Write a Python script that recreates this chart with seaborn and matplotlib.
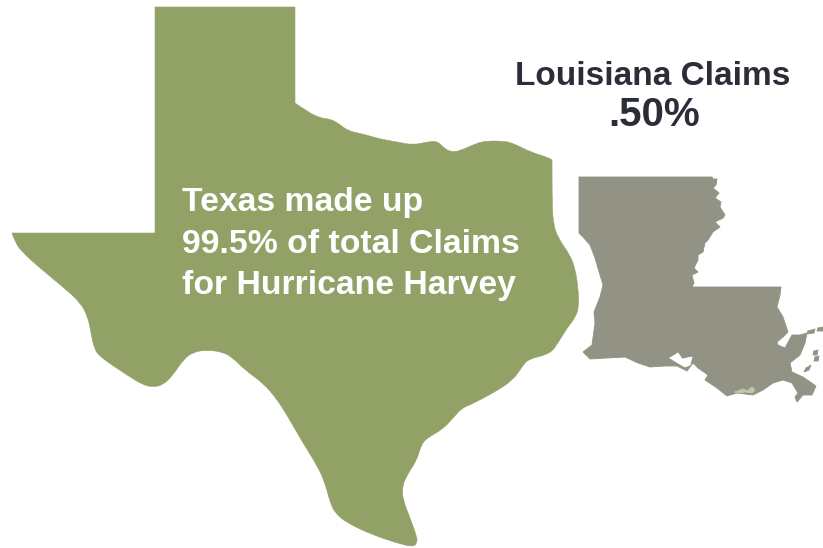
import matplotlib
matplotlib.use("Agg")
import matplotlib.pyplot as plt
from matplotlib.path import Path
from matplotlib.patches import PathPatch
import seaborn as sns

sns.set_theme(style="white")
plt.rcParams['font.family'] = ['Liberation Sans', 'DejaVu Sans']

# State outlines (x, y in picture units, y downward)
texas_x = [155,295,295,308,320,330,338,348,363,380,397,413,427,437,443,450,460,477,487,502,513,530,550,552,
           552,553,558,570,575,578,579,575,567,558,550,528,522,513,495,470,462,453,443,427,421,417,407,402,403,
           410,417,417,413,397,373,347,335,330,325,318,303,287,276,263,245,233,223,207,193,183,173,163,153,143,
           127,100,94,91,88,80,63,40,22,15,12,155]
texas_y = [7,7,103,112,118,119,123,131,134,139,142,145,142,141,147,152,151,143,141,141,143,152,158,160,
           197,223,238,255,268,287,307,318,328,343,354,359,367,380,392,405,408,418,429,438,445,460,475,487,500,
           518,537,543,547,543,535,523,513,502,483,467,443,415,398,383,370,358,352,350,352,360,375,385,387,385,
           375,357,348,333,317,302,287,268,252,242,233,233]
texas_corners = [0, 1, 2, 23, 84, 85]

louisiana_x = [579,712,713,717,716,713,719,715,721,720,725,723,715,720,713,708,705,703,698,698,694,698,692,694,692,
               781,780,777,783,788,783,777,778,785,792,800,807,805,800,790,792,803,816,812,803,797,795,798,792,783,
               773,763,753,737,727,717,705,708,698,693,687,677,665,650,638,625,590,583,592,595,594,600,603,600,595,590,583,579]
louisiana_y = [177,177,179,179,185,188,193,198,202,207,215,218,222,227,232,240,243,252,255,260,268,272,275,283,287,
               287,295,307,317,332,337,342,345,348,335,335,333,343,355,363,372,377,386,395,395,402,397,393,383,380,
               383,390,395,393,396,388,380,375,368,363,371,366,366,367,363,357,359,352,345,323,312,297,285,275,258,245,237,233]

lake_x = [670,678,682,692,690,685,678]
lake_y = [358,353,359,357,365,367,363]

island_a_x = [808,815,814,807]
island_a_y = [331,329,333,334]
island_b_x = [818,823,823,817]
island_b_y = [328,327,331,331]
island_c_x = [814,818,817,813]
island_c_y = [351,350,355,355]
island_d_x = [806,811,809,804]
island_d_y = [368,365,370,372]
island_e_x = [815,819,818,814]
island_e_y = [357,356,361,361]

marsh_x = [735,743,747,752,755,752,745,738]
marsh_y = [392,389,391,387,390,393,392,393]

texas_color = "#92a267"
louisiana_color = "#929384"
ink = "#2b2e38"

texas_lines = ["Texas made up", "99.5% of total Claims", "for Hurricane Harvey"]
texas_baselines = [211, 253, 294]

fig = plt.figure(figsize=(8.23, 5.48), dpi=100, facecolor="white")
ax = fig.add_axes([0, 0, 1, 1])
ax.set_xlim(0, 823)
ax.set_ylim(548, 0)
ax.axis("off")

def state(xs, ys, color):
    ax.fill(xs, ys, color=color, lw=0)
    sns.lineplot(x=xs + xs[:1], y=ys + ys[:1], sort=False, estimator=None,
                 color=color, lw=0.6, ax=ax, legend=False)

def smooth_state(xs, ys, corners, color):
    # Round the outline with quadratic curves except at the sharp corners
    pts = list(zip(xs, ys))
    n = len(pts)
    verts = [pts[0]]
    codes = [Path.MOVETO]
    for i in range(1, n + 1):
        p = pts[i % n]
        q = pts[(i + 1) % n]
        if i % n in corners:
            verts.append(p)
            codes.append(Path.LINETO)
        else:
            end = q if (i + 1) % n in corners else ((p[0] + q[0]) / 2, (p[1] + q[1]) / 2)
            verts += [p, end]
            codes += [Path.CURVE3, Path.CURVE3]
    ax.add_patch(PathPatch(Path(verts, codes), facecolor=color, edgecolor=color, lw=0.4))

smooth_state(texas_x, texas_y, texas_corners, texas_color)
state(louisiana_x, louisiana_y, louisiana_color)
state(lake_x, lake_y, "white")
state(marsh_x, marsh_y, "#c4c6a4")
for ix, iy in [(island_a_x, island_a_y), (island_b_x, island_b_y), (island_c_x, island_c_y),
               (island_d_x, island_d_y), (island_e_x, island_e_y)]:
    state(ix, iy, louisiana_color)

for line, base in zip(texas_lines, texas_baselines):
    ax.text(182, base, line, color="white", fontsize=24.3, fontweight="bold", ha="left", va="baseline")

ax.text(653, 85, "Louisiana Claims", color=ink, fontsize=24, fontweight="bold", ha="center", va="baseline")
ax.text(654, 126, ".50%", color=ink, fontsize=29, fontweight="bold", ha="center", va="baseline")

fig.savefig("out.png", dpi=100, facecolor="white")
